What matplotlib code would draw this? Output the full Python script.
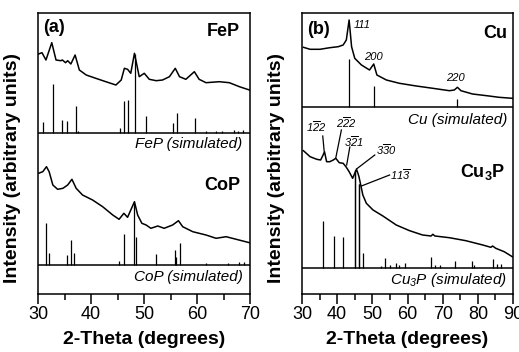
import matplotlib
matplotlib.use('Agg')
import matplotlib.pyplot as plt
from matplotlib.ticker import MultipleLocator

plt.rcParams['font.family'] = ['Liberation Sans', 'DejaVu Sans']
plt.rcParams['mathtext.fontset'] = 'custom'
plt.rcParams['mathtext.rm'] = 'Liberation Sans'
plt.rcParams['mathtext.it'] = 'Liberation Sans:italic'
plt.rcParams['mathtext.sf'] = 'Liberation Sans:italic'
plt.rcParams['mathtext.bf'] = 'Liberation Sans:bold'

# ---- panel (a) ----
fep_x = [30.1, 30.75, 31.5, 32.6, 33.4, 34.3, 34.6, 35.2, 35.6, 36.2, 37.0, 37.8, 39.1,
         40.9, 42.8, 44.7, 45.7, 46.3, 46.9, 47.5, 48.2, 49.1, 50.05, 51.0, 52.3, 53.5,
         54.8, 55.9, 56.7, 57.9, 59.5, 60.4, 61.7, 64.2, 66.1, 68.0, 69.9]
fep_y = [240, 241.3, 234, 251.3, 234, 233.3, 234, 231.3, 233.3, 230, 239, 224, 219,
         215.7, 212.3, 209, 214, 225.7, 224.7, 220.7, 240.7, 217.3, 220.7, 214.7, 213.3, 214,
         217.3, 225.7, 217.3, 214.7, 222.3, 214.7, 211.3, 212.3, 211.3, 207.3, 204]
fep_sim_x = [30.9, 32.8, 34.5, 35.5, 37.2, 37.6, 45.5, 46.2, 47.0, 48.3, 50.4, 55.4, 56.2,
             59.7, 61.7, 63.6, 64.7, 67.0, 67.7, 68.6]
fep_sim_h = [11, 49, 13, 11.5, 27, 2, 5, 31.5, 33, 79, 16.5, 10, 20,
             15, 1.5, 2, 2, 2.5, 2, 2.5]

cop_x = [30.1, 30.9, 31.6, 32.1, 32.8, 33.7, 34.7, 35.6, 36.4, 37.2, 38.4, 40.3, 42.2,
         44.1, 45.3, 46.2, 46.9, 48.2, 48.8, 49.6, 50.4, 51.3, 52.6, 53.8, 55.4, 56.5,
         57.3, 59.2, 61.7, 63.6, 65.5, 67.4, 69.9]
cop_y = [120.7, 122.3, 127.3, 122.3, 109, 104.7, 105.7, 109, 114.7, 105.7, 99, 94, 87.3,
         79, 74.7, 80.7, 76.7, 92.3, 79, 70.7, 69, 65.7, 68, 65.7, 69, 73.3,
         67.3, 62.3, 59, 55.7, 57.3, 54.7, 51.3]
cop_sim_x = [31.5, 32.0, 35.4, 36.2, 36.7, 45.2, 46.2, 48.1, 48.4, 52.3, 55.9, 56.1, 56.8,
             61.7, 65.8, 68.0, 68.9]
cop_sim_h = [42, 12, 10, 24.5, 12, 3.5, 31, 62, 28, 11, 15, 8, 22,
             2, 2, 3, 3]

# ---- panel (b) ----
cu_x = [30.4, 32.3, 35.1, 37.9, 40.3, 41.7, 42.6, 43.4, 44.1, 45.0, 46.9, 49.2, 50.4,
        51.3, 54.0, 57.7, 62.5, 67.2, 71.9, 73.3, 74.2, 75.2, 78.5, 83.2, 86.0, 89.8]
cu_y = [246.7, 244.7, 244.7, 246.3, 247.3, 249, 254, 274, 247.3, 235.7, 229, 224, 230,
        219, 214, 210.7, 208, 205.7, 203.3, 204, 206.7, 203.3, 200, 198, 196.7, 195.7]
cu_sim_x = [43.3, 50.4, 74.1]
cu_sim_h = [48.4, 20.7, 8.4]

cu3p_x = [30.4, 32.3, 34.2, 35.3, 36.0, 36.4, 37.0, 37.9, 38.9, 39.6, 40.6, 41.7, 42.5,
          43.4, 44.4, 45.0, 45.5, 45.9, 46.2, 46.7, 47.3, 48.3, 50.2, 53.0, 56.8, 60.6,
          64.3, 66.7, 67.2, 67.8, 71.9, 76.6, 81.4, 83.7, 84.2, 85.1, 87.5, 89.8]
cu3p_y = [143.3, 137.3, 134.7, 134, 139, 142.3, 132.3, 132.3, 134, 135.7, 131.3, 130.7, 127.3,
          122.3, 115.7, 120.7, 124.7, 120.7, 117.3, 109, 99, 90.7, 84, 78, 69, 63.3,
          59, 58, 59.7, 58, 56.3, 53.3, 49, 46.7, 48, 45.7, 42.3, 37.3]
cu3p_sim_x = [36.1, 39.2, 41.7, 45.0, 45.2, 46.1, 46.3, 47.3, 52.4, 53.6, 55.0, 56.8, 57.5,
              59.3, 66.7, 67.7, 69.3, 73.6, 78.2, 79.0, 84.2, 85.4, 86.5]
cu3p_sim_h = [47, 32, 31.5, 98, 98, 84, 84, 15, 2, 10, 3, 5, 3,
              5, 11.5, 3, 3, 7.5, 7, 3, 9.5, 4, 4]

fig = plt.figure(figsize=(5.19, 3.52), dpi=100)
axA = fig.add_axes([38/519, 58/352, 212/519, 281/352])
axB = fig.add_axes([302/519, 58/352, 211/519, 281/352])

LW = 1.1
for ax in (axA, axB):
    for s in ax.spines.values():
        s.set_linewidth(1.1)
    ax.set_ylim(0, 281)
    ax.set_yticks([])
    ax.xaxis.set_major_locator(MultipleLocator(10))
    ax.xaxis.set_minor_locator(MultipleLocator(5))
    ax.tick_params(axis='x', which='major', direction='out', length=7, width=1.1,
                   labelsize=13, pad=1.5)
    ax.tick_params(axis='x', which='minor', direction='out', length=4, width=1.1)
    ax.set_xlabel('2-Theta (degrees)', fontsize=14, fontweight='bold')
    ax.set_ylabel('Intensity (arbitrary units)', fontsize=14, fontweight='bold')

# panel (a)
axA.set_xlim(30, 70)
axA.plot(fep_x, fep_y, color='black', lw=LW)
axA.vlines(fep_sim_x, 161.5, [161.5 + h for h in fep_sim_h], color='black', lw=0.9)
axA.axhline(161.5, color='black', lw=1.1)
axA.plot(cop_x, cop_y, color='black', lw=LW)
axA.vlines(cop_sim_x, 29.5, [29.5 + h for h in cop_sim_h], color='black', lw=0.9)
axA.axhline(29.5, color='black', lw=1.1)
axA.text(30.9, 267, '(a)', fontsize=13, fontweight='bold', va='center', ha='left')
axA.text(68.1, 262, 'FeP', fontsize=13, fontweight='bold', va='center', ha='right')
axA.text(68.5, 150, 'FeP (simulated)', fontsize=11, style='italic', va='center', ha='right')
axA.text(68.1, 109, 'CoP', fontsize=13, fontweight='bold', va='center', ha='right')
axA.text(68.7, 17, 'CoP (simulated)', fontsize=11, style='italic', va='center', ha='right')
axA.xaxis.set_label_coords(0.5, -0.13)
axA.yaxis.set_label_coords(-0.082, 0.45)

# panel (b)
axB.set_xlim(30, 90)
axB.plot(cu_x, cu_y, color='black', lw=LW)
axB.vlines(cu_sim_x, 187, [187 + h for h in cu_sim_h], color='black', lw=0.9)
axB.axhline(187, color='black', lw=1.1)
axB.plot(cu3p_x, cu3p_y, color='black', lw=LW)
axB.vlines(cu3p_sim_x, 26, [26 + h for h in cu3p_sim_h], color='black', lw=0.9)
axB.axhline(26, color='black', lw=1.1)

axB.text(31.4, 264, '(b)', fontsize=13, fontweight='bold', va='center', ha='left')
axB.text(88.3, 261, 'Cu', fontsize=13, fontweight='bold', va='center', ha='right')
axB.text(88.4, 174, 'Cu (simulated)', fontsize=11, style='italic', va='center', ha='right')
axB.text(87.9, 122, r'Cu$_{\mathbf{3}}$P', fontsize=13, fontweight='bold', va='center', ha='right')
axB.text(88.4, 14, r'Cu$_{\mathsf{3}}$P (simulated)', fontsize=11, style='italic',
         va='center', ha='right')

axB.text(44.6, 269, '111', fontsize=8, style='italic', va='center', ha='left')
axB.text(50.4, 237, '200', fontsize=8, style='italic', va='center', ha='center')
axB.text(73.6, 216, '220', fontsize=8, style='italic', va='center', ha='center')

hkl = [
    (r'$\mathsf{1\overline{2}2}$', (34.1, 167), (35.9, 158), (36.3, 143)),
    (r'$\mathsf{2\overline{2}2}$', (42.5, 171), (41.2, 164), (39.6, 136)),
    (r'$\mathsf{3\overline{2}1}$', (44.6, 152), (43.6, 147), (42.7, 129)),
    (r'$\mathsf{3\overline{3}0}$', (54.0, 144), (50.7, 139), (45.5, 125)),
    (r'$\mathsf{11\overline{3}}$', (58.0, 119), (54.9, 119), (46.9, 108)),
]
for lab, tpos, p0, p1 in hkl:
    axB.text(tpos[0], tpos[1], lab, fontsize=8, va='center', ha='center')
    axB.plot([p0[0], p1[0]], [p0[1], p1[1]], color='black', lw=0.9)

axB.xaxis.set_label_coords(0.5, -0.13)
axB.yaxis.set_label_coords(-0.082, 0.45)

fig.savefig('out.png', dpi=100)
